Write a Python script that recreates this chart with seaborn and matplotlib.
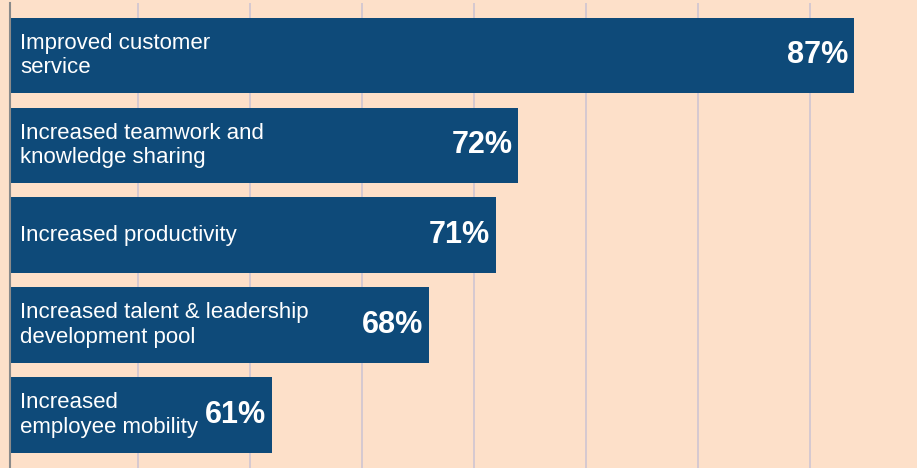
import pandas as pd
import seaborn as sns
import matplotlib.pyplot as plt

# dados do gráfico
categorias = [
    "Improved customer\nservice",
    "Increased teamwork and\nknowledge sharing",
    "Increased productivity",
    "Increased talent & leadership\ndevelopment pool",
    "Increased\nemployee mobility",
]
valores = [87, 72, 71, 68, 61]
rotulos = ["87%", "72%", "71%", "68%", "61%"]
grade = [55, 60, 65, 70, 75, 80, 85]

fundo = "#fde0c9"
azul = "#0e4a79"

df = pd.DataFrame({"categoria": categorias, "valor": valores})

sns.set_style("white")
plt.rcParams["font.family"] = ["Liberation Sans", "DejaVu Sans"]

fig = plt.figure(figsize=(9.17, 4.68), dpi=100, facecolor=fundo)
ax = fig.add_axes([10 / 917, 0, 907 / 917, 465 / 468])
ax.set_facecolor(fundo)

sns.barplot(data=df, x="valor", y="categoria", orient="h", color=azul,
            width=0.84, saturation=1, linewidth=0, ax=ax, zorder=3)

x0 = 49.3
ax.set_xlim(x0, x0 + 907 / 22.4)
ax.set_ylim(4.59, -0.583)

for g in grade:
    ax.axvline(g, color="#cbc3d3", lw=1.1, zorder=1)

for i, (cat, v, r) in enumerate(zip(categorias, valores, rotulos)):
    ax.annotate(cat, xy=(x0, i), xytext=(10, 0), textcoords="offset pixels",
                ha="left", va="center", color="white", fontsize=16,
                linespacing=1.2, zorder=4)
    ax.annotate(r, xy=(v, i), xytext=(-6, 0), textcoords="offset pixels",
                ha="right", va="center", color="white", fontsize=22,
                fontweight="bold", zorder=4)

ax.set_xticks([])
ax.set_yticks([])
ax.set_xlabel("")
ax.set_ylabel("")
for s in ["top", "right", "bottom"]:
    ax.spines[s].set_visible(False)
ax.spines["left"].set_color("#8a8a8a")
ax.spines["left"].set_linewidth(1.5)
ax.spines["left"].set_zorder(5)

fig.savefig("out.png", dpi=100, facecolor=fundo)
